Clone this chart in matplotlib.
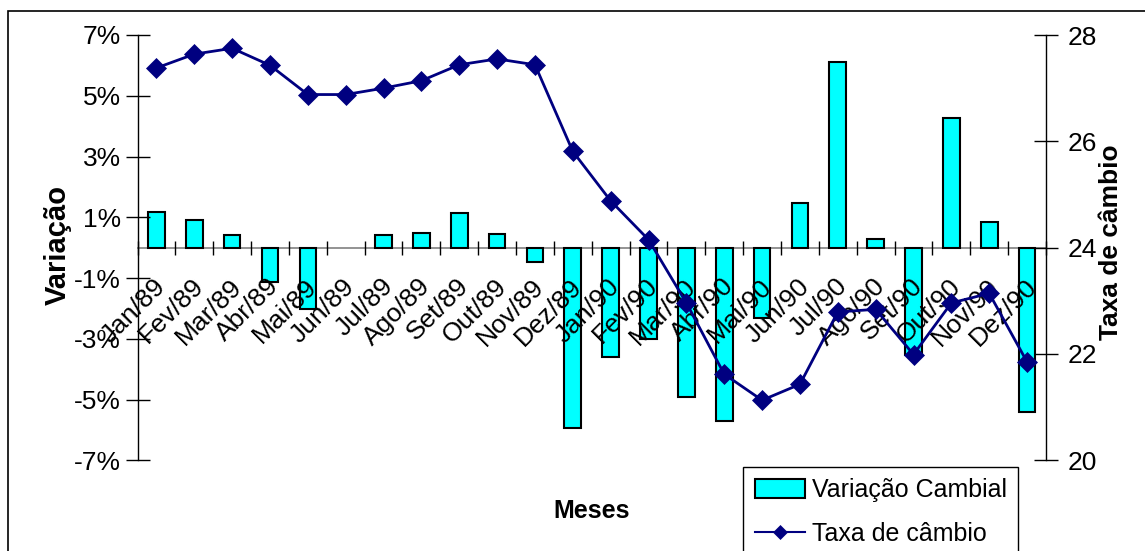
import matplotlib
matplotlib.use("Agg")
import matplotlib.pyplot as plt
from matplotlib.patches import Rectangle
from matplotlib.lines import Line2D
from matplotlib.ticker import FixedLocator, FuncFormatter
from matplotlib.transforms import ScaledTranslation
import numpy as np

plt.rcParams['font.family'] = ['Liberation Sans', 'DejaVu Sans']

# Monthly data, Jan/1989 - Dez/1990
meses = ["Jan/89", "Fev/89", "Mar/89", "Abr/89", "Mai/89", "Jun/89",
         "Jul/89", "Ago/89", "Set/89", "Out/89", "Nov/89", "Dez/89",
         "Jan/90", "Fev/90", "Mar/90", "Abr/90", "Mai/90", "Jun/90",
         "Jul/90", "Ago/90", "Set/90", "Out/90", "Nov/90", "Dez/90"]

# Monthly exchange-rate change, in percent
variacao = [1.17, 0.91, 0.43, -1.14, -2.03, 0.0,
            0.43, 0.48, 1.15, 0.44, -0.46, -5.94,
            -3.60, -3.00, -4.92, -5.72, -2.32, 1.48,
            6.10, 0.28, -3.55, 4.28, 0.86, -5.40]

# Exchange rate level
taxa = [27.38, 27.64, 27.75, 27.43, 26.88, 26.88,
        27.00, 27.14, 27.44, 27.55, 27.44, 25.81,
        24.88, 24.15, 22.96, 21.62, 21.13, 21.43,
        22.79, 22.84, 21.99, 22.96, 23.14, 21.85]

var_ticks = [-7, -5, -3, -1, 1, 3, 5, 7]
taxa_ticks = [20, 22, 24, 26, 28]

W, H = 1145, 551
fig = plt.figure(figsize=(W / 100, H / 100), dpi=100)

x0, x1, y_top, y_bot = 137.5, 1046.0, 35.0, 460.3
ax = fig.add_axes([x0 / W, 1 - y_bot / H, (x1 - x0) / W, (y_bot - y_top) / H])
ax.set_axisbelow(False)

x = np.arange(len(meses))
bars = ax.bar(x, variacao, width=0.44, color="#00FFFF", edgecolor="black",
              linewidth=1.5, label="Variação Cambial", zorder=2)
# a month with no change gets no visible bar
for b, v in zip(bars, variacao):
    if v == 0:
        b.set_linewidth(0)

ax.set_xlim(-0.5, len(meses) - 0.5)
ax.set_ylim(-7, 7)
ax.yaxis.set_major_locator(FixedLocator(var_ticks))
ax.yaxis.set_major_formatter(FuncFormatter(lambda v, p: f"{v:.0f}%"))
ax.tick_params(axis="y", direction="inout", length=17, width=1, pad=3.5,
               labelsize=19, color="black")

for s in ("top", "right"):
    ax.spines[s].set_visible(False)
ax.spines["left"].set_color("black")
ax.spines["left"].set_linewidth(1)
ax.spines["bottom"].set_position(("data", 0))
ax.spines["bottom"].set_color("#808080")
ax.spines["bottom"].set_linewidth(1.2)
ax.spines["bottom"].set_zorder(1.5)

# Category labels at the bar centres, tick marks at the boundaries
ax.set_xticks(x)
ax.set_xticklabels(meses, rotation=45, ha="right", rotation_mode="anchor")
ax.set_xticks(np.arange(len(meses) + 1) - 0.5, minor=True)
ax.tick_params(axis="x", which="major", length=0, pad=19, labelsize=19)
ax.tick_params(axis="x", which="minor", direction="inout", length=10,
               width=1, color="black")
shift = ScaledTranslation(-3 / 100, 0, fig.dpi_scale_trans)
for lbl in ax.get_xticklabels():
    lbl.set_transform(lbl.get_transform() + shift)

ax.set_ylabel("Variação", fontsize=21, fontweight="bold", va="center")
ax.yaxis.set_label_coords((57.3 - x0) / (x1 - x0), (y_bot - 245) / (y_bot - y_top))
ax.set_xlabel("Meses", fontsize=18, fontweight="bold", va="center")
ax.xaxis.set_label_coords(0.5, (y_bot - 510.7) / (y_bot - y_top))

ax2 = ax.twinx()
line, = ax2.plot(x, taxa, color="#000080", linewidth=2, marker="D",
                 markersize=10, markeredgewidth=0.5, label="Taxa de câmbio")
ax2.set_ylim(20, 28)
ax2.yaxis.set_major_locator(FixedLocator(taxa_ticks))
ax2.tick_params(axis="y", direction="inout", length=17, width=1, pad=7,
                labelsize=19, color="black")
for s in ("top", "left", "bottom"):
    ax2.spines[s].set_visible(False)
ax2.spines["right"].set_color("black")
ax2.spines["right"].set_linewidth(1)
ax2.set_ylabel("Taxa de câmbio", fontsize=19, fontweight="bold",
               rotation=90, va="center")
ax2.yaxis.set_label_coords((1110.7 - x0) / (x1 - x0), (y_bot - 241.7) / (y_bot - y_top))

# Legend key for the line uses a thinner stroke and smaller marker
line_key = Line2D([], [], color="#000080", linewidth=1.5, marker="D",
                  markersize=7.5, markeredgewidth=0.5)
leg = fig.legend([bars, line_key], ["Variação Cambial", "Taxa de câmbio"],
                 loc="upper left", bbox_to_anchor=(743.3 / W, 1 - 466.7 / H),
                 bbox_transform=fig.transFigure, borderaxespad=0,
                 fontsize=18, frameon=True, fancybox=False, shadow=False,
                 handlelength=2.0, handleheight=0.8, handletextpad=0.3,
                 borderpad=0.45, labelspacing=0.8)
leg.get_frame().set_edgecolor("black")
leg.get_frame().set_linewidth(1)
leg.get_frame().set_alpha(1)

# Outer chart frame
fig.patches.append(Rectangle((8 / W, -0.1), 1.2, 1 - 11 / H + 0.1,
                             transform=fig.transFigure, fill=False,
                             edgecolor="black", linewidth=1.2))

fig.savefig("out.png", dpi=100)
